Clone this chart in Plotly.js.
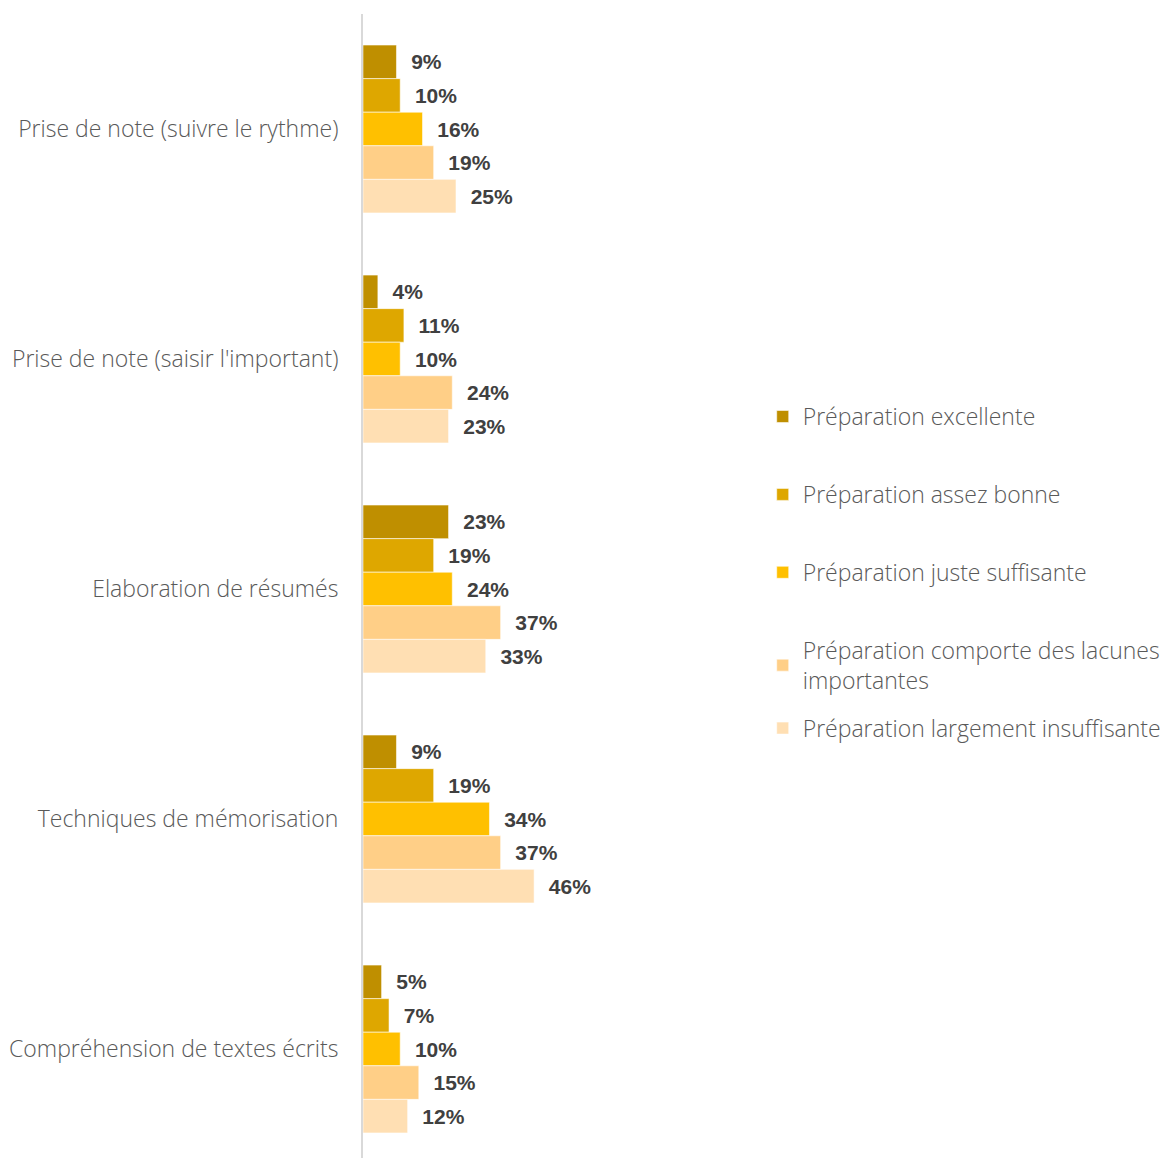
<!DOCTYPE html>
<html>
<head>
<meta charset="utf-8">
<script src="https://cdn.plot.ly/plotly-3.0.1.min.js"></script>
<style>
  html, body { margin: 0; padding: 0; overflow: hidden; background: #fff; }
  #chart { width: 1168px; height: 1164px; }
</style>
</head>
<body>
<div id="chart"></div>
<script>
// Skills assessed (top to bottom)
const categories = [
  'Prise de note (suivre le rythme)',
  "Prise de note (saisir l'important)",
  'Elaboration de résumés',
  'Techniques de mémorisation',
  'Compréhension de textes écrits'
];

// Share of respondents per preparation level, in %
const excellente   = [9, 4, 23, 9, 5];
const assezBonne   = [10, 11, 19, 19, 7];
const justeSuff    = [16, 10, 24, 34, 10];
const lacunes      = [19, 24, 37, 37, 15];
const largementIns = [25, 23, 33, 46, 12];

const seriesNames = [
  'Préparation excellente',
  'Préparation assez bonne',
  'Préparation juste suffisante',
  'Préparation comporte des lacunes<br>importantes',
  'Préparation largement insuffisante'
];
const seriesValues = [excellente, assezBonne, justeSuff, lacunes, largementIns];
const seriesColors = ['#BF8F00', '#DEA700', '#FFC000', '#FFCF87', '#FFDFB3'];

const labelFont = { family: 'Liberation Sans, Arial, sans-serif', size: 21, color: '#404040', weight: 700 };

const traces = seriesValues.map((vals, i) => ({
  type: 'bar',
  orientation: 'h',
  name: seriesNames[i],
  y: categories,
  x: vals,
  legendgroup: 'g' + i,
  legend: i === 4 ? 'legend2' : 'legend',
  marker: { color: seriesColors[i], line: { color: 'rgba(255,255,255,0.55)', width: 1 } },
  text: vals.map(v => '\u00a0\u00a0' + v + '%'),
  texttemplate: '%{text}',
  textposition: 'outside',
  textfont: labelFont,
  cliponaxis: false,
  constraintext: 'none',
  hoverinfo: 'skip'
}));

const legendFont = { family: 'Open Sans, sans-serif', size: 23, color: '#595959', weight: 300 };

const layout = {
  width: 1168,
  height: 1164,
  margin: { l: 363, r: 433, t: 14, b: 0 },
  paper_bgcolor: '#ffffff',
  plot_bgcolor: '#ffffff',
  barmode: 'group',
  bargap: 0.27,
  bargroupgap: 0,
  showlegend: true,
  xaxis: {
    range: [0, 100],
    showgrid: false,
    zeroline: false,
    showline: false,
    showticklabels: false,
    ticks: '',
    fixedrange: true
  },
  yaxis: {
    autorange: 'reversed',
    showgrid: false,
    zeroline: false,
    showline: true,
    linecolor: '#D9D9D9',
    linewidth: 2,
    ticks: '',
    ticklabelstandoff: 18,
    tickfont: legendFont,
    fixedrange: true
  },
  legend: {
    xref: 'container', yref: 'container',
    x: 0.653, y: 1 - 393 / 1158,
    xanchor: 'left', yanchor: 'top',
    font: legendFont,
    tracegroupgap: 45,
    bgcolor: 'rgba(0,0,0,0)',
    traceorder: 'grouped'
  },
  legend2: {
    xref: 'container', yref: 'container',
    x: 0.653, y: 1 - 703 / 1158,
    xanchor: 'left', yanchor: 'top',
    font: legendFont,
    bgcolor: 'rgba(0,0,0,0)'
  }
};

Plotly.newPlot('chart', traces, layout, { displayModeBar: false, staticPlot: true });
</script>
</body>
</html>
